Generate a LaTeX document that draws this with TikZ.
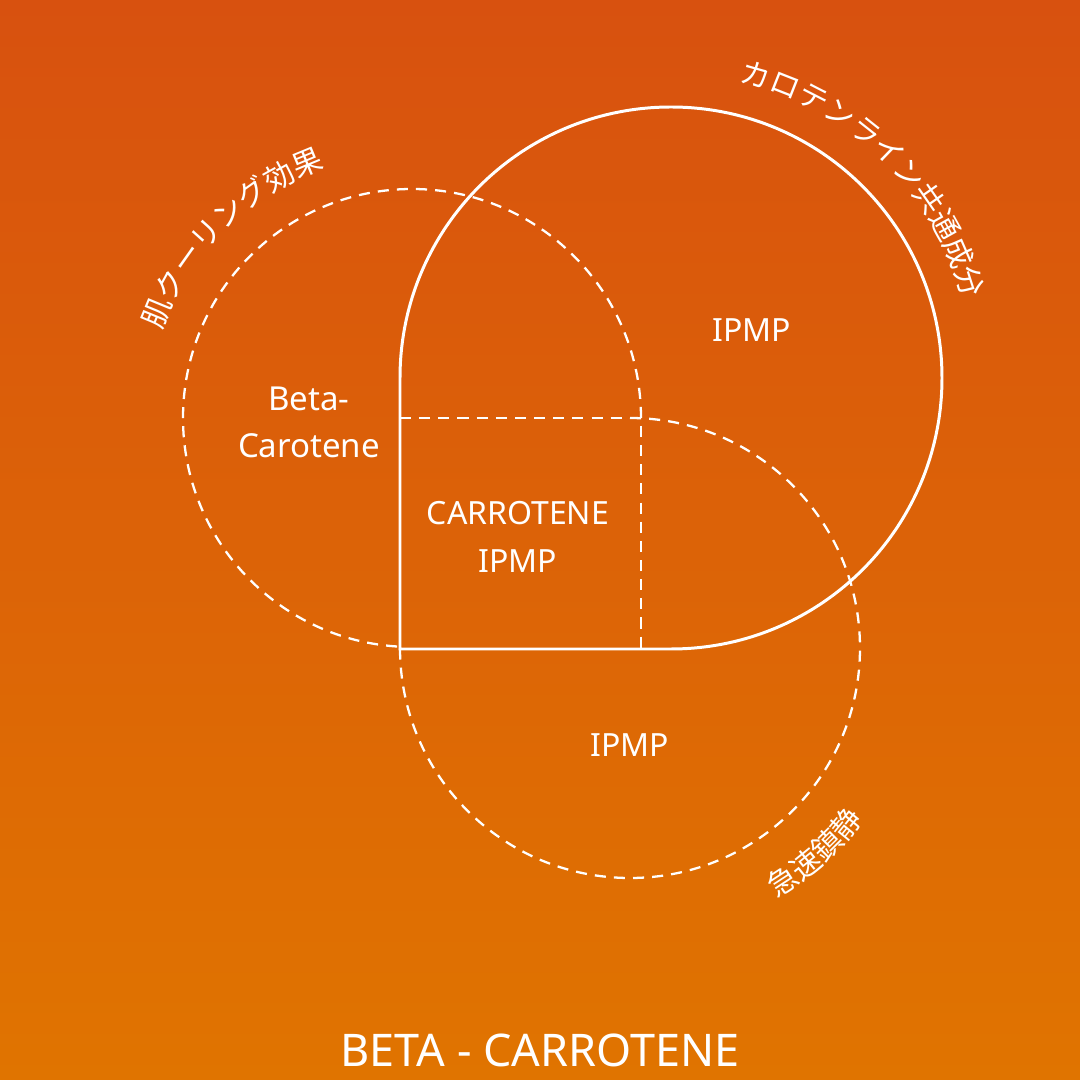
\documentclass[tikz,border=0pt]{standalone}
\usepackage{fontspec}
\setmainfont{Noto Sans}
\newfontfamily\jpfont{Noto Sans CJK JP}
\usepackage{tikz}
\usetikzlibrary{decorations.text}
\definecolor{bgtop}{HTML}{D8510F}
\definecolor{bgbottom}{HTML}{E07400}
\tikzset{
  circleline/.style={draw=white, line width=1.7pt},
  circledash/.style={draw=white, line width=1.3pt, dash pattern=on 6.3pt off 4.6pt},
  regionlabel/.style={text=white, align=center, font=\fontsize{18.2}{27.3}\selectfont},
  regionbig/.style={text=white, align=center, font=\fontsize{18.8}{26.8}\selectfont},
  heading/.style={text=white, font=\fontsize{25.6}{30}\selectfont},
  arclabel/.style={decorate, decoration={text along path, text align=center, text color=white, text={#1}}}
}

\begin{document}
\begin{tikzpicture}[x=0.02cm,y=0.02cm]
  \shade[top color=bgtop, bottom color=bgbottom] (0,0) rectangle (1080,1080);
  \useasboundingbox (0,0) rectangle (1080,1080);
  \coordinate (corner) at (400,431);
  \coordinate (cross) at (641,662);
  \coordinate (skin) at (412,662);
  \coordinate (line) at (670,702);
  \coordinate (calm) at (630,432);
  \draw[circledash] (cross) arc[start angle=0, end angle=267, radius=229];
  \draw[circledash] (calm) ++(90:230) arc[start angle=90, end angle=-180, radius=230];
  \draw[circledash] (corner |- cross) -- (cross) -- (cross |- corner);
  \draw[circleline] (corner) -- (corner |- line) arc[start angle=180, end angle=-90, radius=271] -- cycle;
  \node[regionlabel] (ipmptop) at (752,750) {IPMP};
  \node[regionbig] (betacarotene) at (309,658) {Beta-\\Carotene};
  \node[regionlabel] (overlap) at (518,543) {CARROTENE\\IPMP};
  \node[regionlabel] (ipmpbottom) at (630,335) {IPMP};
  \node[heading] (title) at (540,30) {BETA - CARROTENE};
  \path[arclabel={|\jpfont\fontsize{17}{17}\selectfont|肌クーリング効果}] (skin) ++(170:265) arc[start angle=170, end angle=100, radius=265];
  \path[arclabel={|\jpfont\fontsize{17}{17}\selectfont|カロテンライン共通成分}] (line) ++(86:304) arc[start angle=86, end angle=6, radius=304];
  \path[arclabel={|\jpfont\fontsize{17}{17}\selectfont|急速鎮静}] (calm) ++(-68:290) arc[start angle=-68, end angle=-28, radius=290];
\end{tikzpicture}
\end{document}
